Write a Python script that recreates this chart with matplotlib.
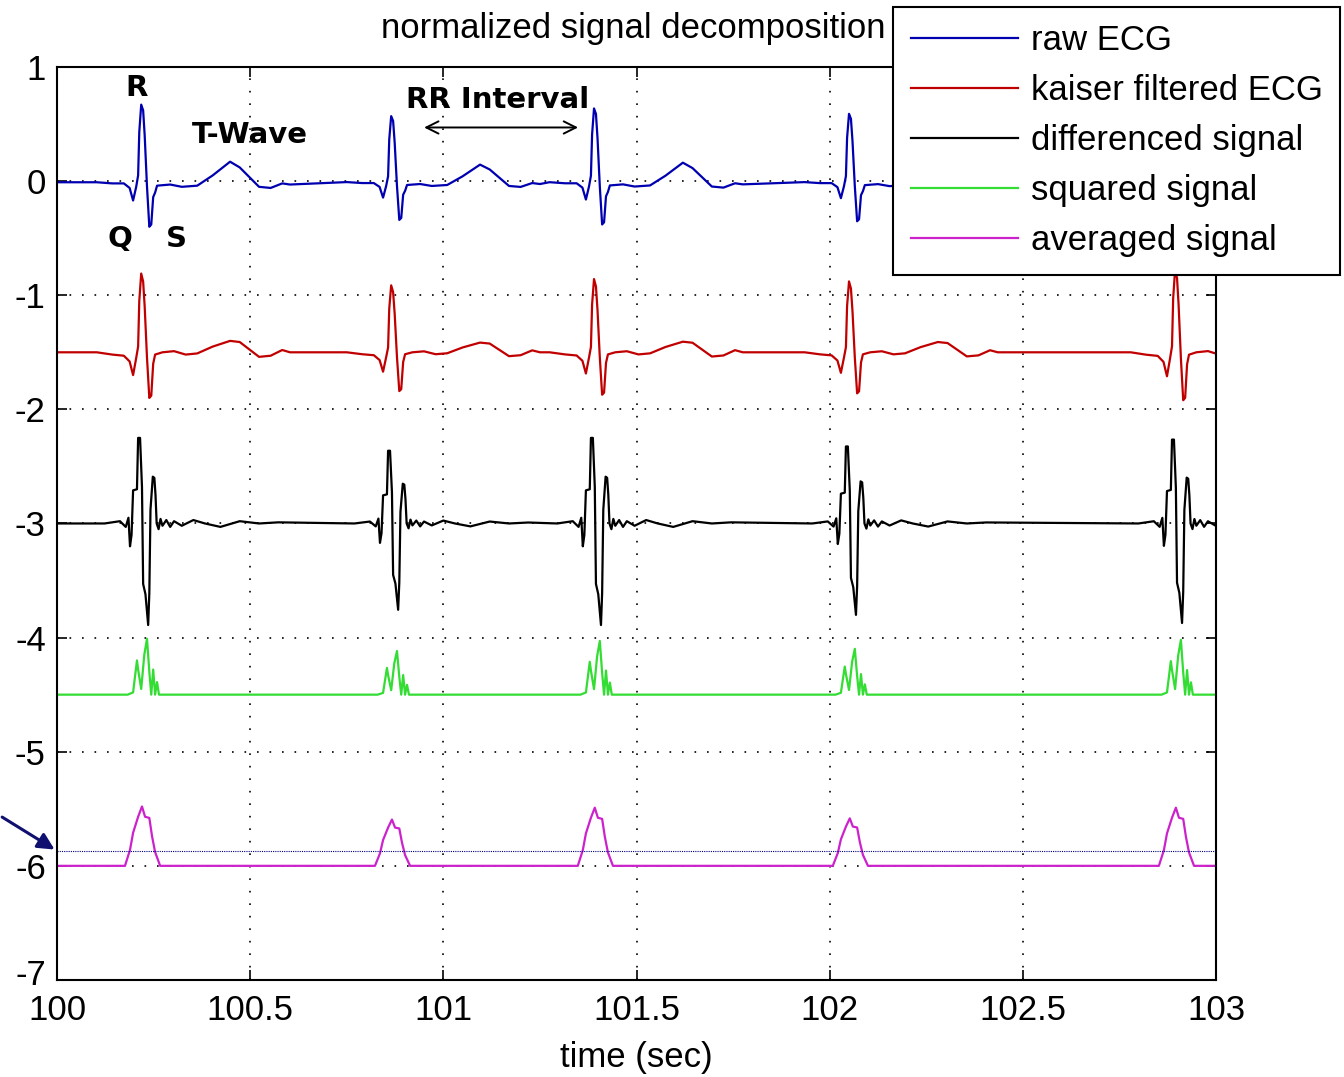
import numpy as np
import matplotlib
matplotlib.use("Agg")
import matplotlib.pyplot as plt
import matplotlib.transforms as mtransforms

plt.rcParams['font.family'] = ['Liberation Sans', 'DejaVu Sans']
plt.rcParams['axes.unicode_minus'] = False

# R-peak times (sec)
beat_times = [100.223, 100.870, 101.395, 102.055, 102.899]
t_start, t_end = 100.0, 103.0

# vertical offsets used to stack the traces
offsets = [0.0, -1.5, -3.0, -4.5, -6.0]

# beat templates: offset from R peak (sec) and value relative to trace baseline
raw_dt = [-0.12, -0.08, -0.05, -0.035, -0.026, -0.018, -0.013, -0.010, -0.005, 0.0, 0.004,
          0.010, 0.016, 0.021, 0.026, 0.031, 0.036, 0.07, 0.10, 0.14, 0.18, 0.225, 0.25,
          0.30, 0.33, 0.36, 0.38]
raw_v = [-0.01, -0.02, -0.02, -0.06, -0.17, -0.05, 0.05, 0.43, 0.67, 0.62, 0.40,
         -0.05, -0.40, -0.38, -0.14, -0.10, -0.04, -0.03, -0.05, -0.04, 0.05, 0.17, 0.12,
         -0.05, -0.06, -0.02, -0.03]

kaiser_dt = [-0.12, -0.08, -0.05, -0.035, -0.026, -0.018, -0.013, -0.010, -0.005, 0.0,
             0.004, 0.010, 0.016, 0.021, 0.026, 0.031, 0.05, 0.08, 0.11, 0.14, 0.18,
             0.225, 0.25, 0.30, 0.33, 0.36, 0.38]
kaiser_v = [0.0, -0.02, -0.03, -0.08, -0.20, -0.05, 0.05, 0.45, 0.69, 0.62,
            0.40, -0.05, -0.40, -0.38, -0.10, -0.02, 0.0, 0.01, -0.02, -0.01, 0.05,
            0.10, 0.09, -0.04, -0.03, 0.02, 0.0]

diff_dt = [-0.10, -0.06, -0.045, -0.038, -0.034, -0.030, -0.026, -0.016, -0.013, -0.008,
           -0.003, 0.0, 0.006, 0.013, 0.016, 0.019, 0.025, 0.029, 0.032, 0.035, 0.04,
           0.045, 0.05, 0.06, 0.07, 0.08, 0.10, 0.13, 0.16, 0.20, 0.25, 0.30, 0.35]
diff_v = [0.0, 0.02, -0.03, 0.05, -0.20, -0.10, 0.29, 0.30, 0.75, 0.75,
          0.32, -0.53, -0.62, -0.89, -0.61, 0.12, 0.41, 0.40, 0.25, 0.0, -0.05,
          0.04, -0.02, 0.03, -0.03, 0.02, -0.02, 0.03, 0.0, -0.03, 0.02, 0.0, 0.01]

sq_dt = [-0.06, -0.04, -0.026, -0.016, -0.013, -0.005, 0.003, 0.010, 0.016, 0.021,
         0.026, 0.031, 0.036, 0.041, 0.06]
sq_v = [0.0, 0.0, 0.02, 0.30, 0.22, 0.05, 0.35, 0.49, 0.20, 0.0,
        0.22, 0.0, 0.11, 0.0, 0.0]

avg_dt = [-0.06, -0.047, -0.034, -0.026, -0.013, -0.003, 0.005, 0.016, 0.023, 0.031,
          0.044, 0.06]
avg_v = [0.0, 0.0, 0.14, 0.29, 0.43, 0.52, 0.43, 0.42, 0.26, 0.12, 0.0, 0.0]

# per-beat amplitude factors
raw_scale = [1.0, 0.85, 0.95, 0.88, 0.95]
kaiser_scale = [1.0, 0.85, 0.93, 0.90, 1.05]
diff_scale = [1.0, 0.85, 1.0, 0.90, 0.98]
sq_scale = [1.0, 0.78, 0.96, 0.82, 0.98]
avg_scale = [1.0, 0.78, 0.98, 0.80, 0.98]

threshold = -5.87

labels = ['raw ECG', 'kaiser filtered ECG', 'differenced signal', 'squared signal',
          'averaged signal']
colors = ['#0000b0', '#c00000', 'black', '#33dd33', '#cc22cc']


def build(dt, v, scale, base):
    t = [t_start]
    y = [base + v[0]]
    for bt, s in zip(beat_times, scale):
        t.extend(bt + np.array(dt))
        y.extend(base + s * np.array(v))
    t.append(t_end + 0.5)
    y.append(base + v[-1])
    return np.array(t), np.array(y)


series = [
    build(raw_dt, raw_v, raw_scale, offsets[0]),
    build(kaiser_dt, kaiser_v, kaiser_scale, offsets[1]),
    build(diff_dt, diff_v, diff_scale, offsets[2]),
    build(sq_dt, sq_v, sq_scale, offsets[3]),
    build(avg_dt, avg_v, avg_scale, offsets[4]),
]

fig = plt.figure(figsize=(13.44, 10.77), dpi=100)
ax = fig.add_axes([0.0424, 0.0901, 0.8624, 0.8477])

for (t, y), lab, c in zip(series, labels, colors):
    ax.plot(t, y, color=c, linewidth=1.6, label=lab)

ax.axhline(threshold, color='#000080', linewidth=0.8, linestyle=(0, (1, 1)))

ax.set_xlim(100, 103)
ax.set_ylim(-7, 1)
ax.set_xticks([100, 100.5, 101, 101.5, 102, 102.5, 103])
ax.set_xticklabels(['100', '100.5', '101', '101.5', '102', '102.5', '103'])
ax.set_yticks(range(-7, 2))
ax.grid(True, color='black', linestyle=(0, (1, 6.5)), linewidth=1.2)
ax.tick_params(direction='in', length=7, width=1.2, top=True, right=True,
               labelsize=25, pad=8)
ax.tick_params(axis='x', pad=10)
for sp in ax.spines.values():
    sp.set_linewidth(1.5)
ax.set_xlabel('time (sec)', fontsize=25, labelpad=10)
ax.set_title('normalized signal decomposition', fontsize=25, pad=21, x=0.497)

# nudge the bottom y label up so it clears the first x label
fig.canvas.draw()
lowest = ax.get_yticklabels()[0]
lowest.set_transform(lowest.get_transform() +
                     mtransforms.ScaledTranslation(0, 6 / 72, fig.dpi_scale_trans))

# annotations
bold = dict(fontsize=21, fontweight='bold', family='DejaVu Sans', ha='center', va='center')
ax.text(100.205, 0.82, 'R', **bold)
ax.text(100.50, 0.40, 'T-Wave', **bold)
ax.text(100.163, -0.51, 'Q', **bold)
ax.text(100.308, -0.51, 'S', **bold)
ax.text(101.14, 0.71, 'RR Interval', **bold)
ax.annotate('', xy=(101.356, 0.47), xytext=(100.943, 0.47),
            arrowprops=dict(arrowstyle='<->', color='black', lw=1.4,
                            mutation_scale=22))
ax.annotate('', xy=(100.0, threshold), xytext=(99.852, -5.56),
            arrowprops=dict(arrowstyle='-|>', color='#101070', lw=2.2,
                            mutation_scale=25),
            annotation_clip=False)

leg = fig.legend(loc='upper right', bbox_to_anchor=(0.997, 0.9935), fontsize=25,
                 handlelength=3.1, handletextpad=0.35, labelspacing=0.49,
                 borderpad=0.5, borderaxespad=0, fancybox=False, framealpha=1,
                 edgecolor='black')
leg.get_frame().set_linewidth(1.5)

fig.savefig('out.png', dpi=100)
